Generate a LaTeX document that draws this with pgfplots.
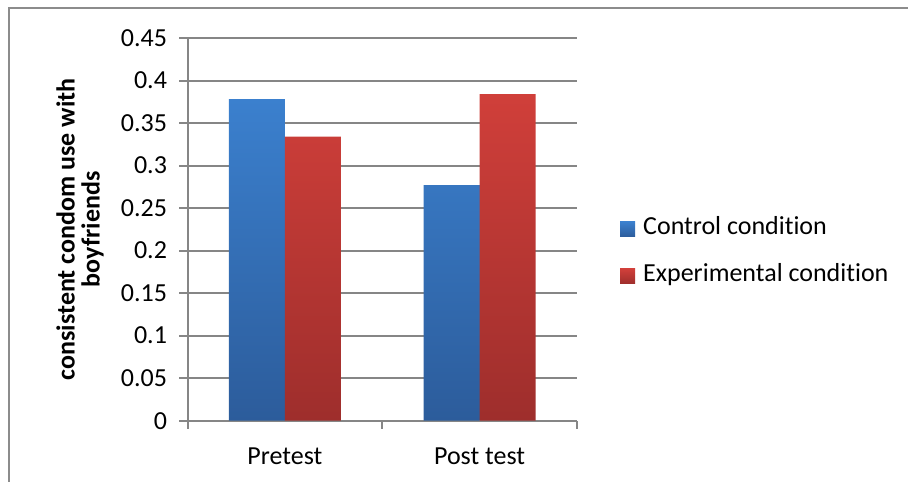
\documentclass[border=0pt]{standalone}
\usepackage{pgfplots}
\pgfplotsset{compat=1.18}
\usepackage{fontspec}
\setmainfont{Carlito}[RawFeature={-liga;-clig;-dlig}]

\definecolor{ctrlTop}{RGB}{59,128,206}
\definecolor{ctrlBot}{RGB}{44,92,155}
\definecolor{expTop}{RGB}{208,63,58}
\definecolor{expBot}{RGB}{158,46,44}
\definecolor{gridgray}{RGB}{134,134,134}
\definecolor{framegray}{RGB}{140,140,140}

\begin{document}
\begin{tikzpicture}[x=1pt,y=1pt,font=\fontsize{26}{28}\selectfont]
\useasboundingbox (0,0) rectangle (908,482);
% chart area border (top and left edges)
\draw[framegray, line width=2pt] (9,0) -- (9,473.5) -- (908,473.5);
\begin{axis}[
  at={(187.5pt,61.3pt)}, anchor=south west,
  scale only axis, width=389.5pt, height=382.7pt,
  xmin=-0.5, xmax=1.5, ymin=0, ymax=0.45,
  ybar=0pt, bar width=56pt,
  xtick={0,1}, xticklabels={Pretest,Post test},
  minor xtick={-0.5,0.5,1.5},
  ytick={0,0.05,0.1,0.15,0.2,0.25,0.3,0.35,0.4,0.45},
  yticklabels={0,0.05,0.1,0.15,0.2,0.25,0.3,0.35,0.4,0.45},
  axis x line*=bottom, axis y line*=left,
  axis line style={gridgray, line width=2pt},
  tick align=outside,
  major tick length=8pt, minor tick length=8pt,
  major x tick style={draw=none},
  minor x tick style={gridgray, line width=2pt},
  major y tick style={gridgray, line width=2pt},
  ymajorgrids, major grid style={gridgray, line width=2pt},
  yticklabel style={xshift=-9pt},
  xticklabel style={yshift=-16pt},
  every axis y label/.style={at={(axis description cs:-0.276,0.5)}, rotate=90,
    anchor=center, align=center, font=\fontsize{26}{25}\selectfont\bfseries},
  ylabel={consistent condom use with\\boyfriends},
  legend style={draw=none, fill=none, at={(1,0.44)}, xshift=43pt, anchor=west,
    inner sep=0pt, row sep=23pt,
    nodes={inner sep=0pt, anchor=base west, text height=18pt, text depth=6pt},
    /tikz/every odd column/.append style={column sep=8pt}},
  legend cell align=left,
  legend image code/.code={\path[#1, draw=none] (0pt,-2pt) rectangle (15pt,13pt);},
]
\addplot[draw=none, top color=ctrlTop, bottom color=ctrlBot] coordinates {(0,0.378) (1,0.277)};
\addplot[draw=none, top color=expTop, bottom color=expBot] coordinates {(0,0.334) (1,0.384)};
\legend{Control condition, Experimental condition}
\end{axis}
\end{tikzpicture}
\end{document}
